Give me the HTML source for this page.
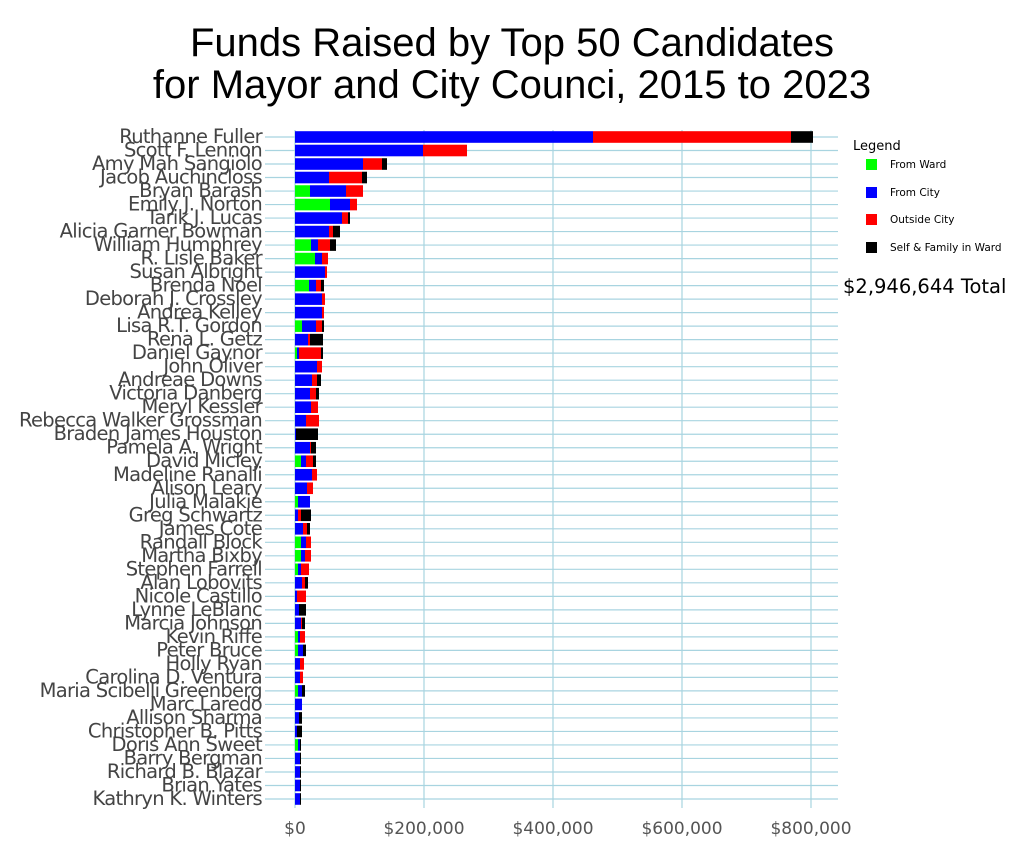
<!DOCTYPE html>
<html><head><meta charset="utf-8"><style>
html,body{margin:0;padding:0;background:#fff;}
svg{display:block;}
</style></head><body>
<svg id="c" width="1024" height="857" xmlns="http://www.w3.org/2000/svg" font-family="'DejaVu Sans','Liberation Sans',sans-serif">
<text x="512" y="56" font-size="40" text-anchor="middle" fill="#000" font-family="'Liberation Sans',sans-serif">Funds Raised by Top 50 Candidates</text>
<text x="512" y="98" font-size="40" text-anchor="middle" fill="#000" font-family="'Liberation Sans',sans-serif">for Mayor and City Counci, 2015 to 2023</text>
<g id="grid"></g>
<g id="bars"></g>
<g id="labels" font-size="19.5" fill="#444" text-anchor="end" letter-spacing="-0.7"></g>
<g font-size="17" fill="#555" text-anchor="middle">
<text x="295" y="834">$0</text><text x="424" y="834">$200,000</text><text x="553" y="834">$400,000</text><text x="682" y="834">$600,000</text><text x="811" y="834">$800,000</text>
</g>
<text x="853" y="150" font-size="13" fill="#000">Legend</text>
<rect x="866" y="159" width="11" height="11" fill="#00ff00"/><text x="890" y="168" font-size="10.5">From Ward</text>
<rect x="866" y="187" width="11" height="11" fill="#0000ff"/><text x="890" y="196" font-size="10.5">From City</text>
<rect x="866" y="214" width="11" height="11" fill="#ff0000"/><text x="890" y="223" font-size="10.5">Outside City</text>
<rect x="866" y="242" width="11" height="11" fill="#000"/><text x="890" y="251" font-size="10.5">Self &amp; Family in Ward</text>
<text x="843" y="293" font-size="19.5" fill="#000">$2,946,644 Total</text>
</svg>
<script>
var names=["Ruthanne Fuller","Scott F. Lennon","Amy Mah Sangiolo","Jacob Auchincloss","Bryan Barash","Emily J. Norton","Tarik J. Lucas","Alicia Garner Bowman","William Humphrey","R. Lisle Baker","Susan Albright","Brenda Noel","Deborah J. Crossley","Andrea Kelley","Lisa R.T. Gordon","Rena L. Getz","Daniel Gaynor","John Oliver","Andreae Downs","Victoria Danberg","Meryl Kessler","Rebecca Walker Grossman","Braden James Houston","Pamela A. Wright","David Micley","Madeline Ranalli","Alison Leary","Julia Malakie","Greg Schwartz","James Cote","Randall Block","Martha Bixby","Stephen Farrell","Alan Lobovits","Nicole Castillo","Lynne LeBlanc","Marcia Johnson","Kevin Riffe","Peter Bruce","Holly Ryan","Carolina D. Ventura","Maria Scibelli Greenberg","Marc Laredo","Allison Sharma","Christopher B. Pitts","Doris Ann Sweet","Barry Bergman","Richard B. Blazar","Brian Yates","Kathryn K. Winters"];
var d=[[0,298,198,22],[0,128,44,0],[0,68,19,5],[0,34,33,5],[15,36,17,0],[35,20,7,0],[0,47,6,2],[0,34,4,7],[16,7,12,6],[20,7,6,0],[0,30,2,0],[14,7,5,3],[0,27,3,0],[0,27,2,0],[7,14,6,2],[0,13,2,13],[2,2,22,2],[0,22,5,0],[0,17,5,4],[0,15,6,3],[0,16,7,0],[0,11,13,0],[0,1,0,22],[0,15,1,5],[6,5,7,3],[0,17,5,0],[0,12,6,0],[3,12,0,0],[0,3,3,10],[0,8,4,3],[6,5,5,0],[6,4,6,0],[3,3,8,0],[0,7,3,3],[0,2,9,0],[0,4,0,7],[0,6,1,3],[3,2,5,0],[3,5,0,3],[0,5,4,0],[0,5,3,0],[3,4,0,3],[0,7,0,0],[0,4,0,3],[0,2,0,5],[3,2,0,1],[0,5,0,1],[0,5,0,1],[0,5,0,1],[0,5,0,1]];
var cols=["#00ff00","#0000ff","#ff0000","#000000"];
var ns="http://www.w3.org/2000/svg";
function el(p,t,a,txt){var e=document.createElementNS(ns,t);for(var k in a)e.setAttribute(k,a[k]);if(txt)e.textContent=txt;document.getElementById(p).appendChild(e);}
[295,424,553,682,811].forEach(function(x){el("grid","line",{x1:x,y1:130,x2:x,y2:808,stroke:"#a8d4e0","stroke-width":1.2});});
for(var i=0;i<50;i++){var y=137+i*13.51;
el("grid","line",{x1:265,y1:y,x2:838,y2:y,stroke:"#a8d4e0","stroke-width":1.2});
var x=295;for(var j=0;j<4;j++){if(d[i][j]>0){el("bars","rect",{x:x,y:y-5.8,width:d[i][j],height:11.6,fill:cols[j]});x+=d[i][j];}}
el("labels","text",{x:262,y:y+6},names[i]);}
</script>
</body></html>
